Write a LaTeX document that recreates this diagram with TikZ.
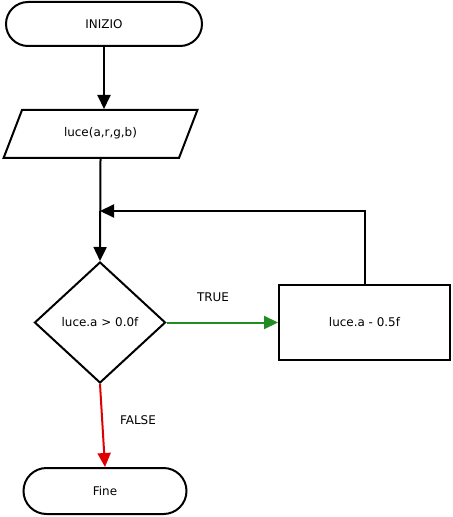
\documentclass[tikz,border=0pt]{standalone}
\usepackage{fontspec}
\setmainfont{DejaVu Sans}
\usetikzlibrary{shapes,arrows.meta,positioning}

\begin{document}
\begin{tikzpicture}[
  x=1bp, y=-1bp,
  font=\fontsize{12}{14}\selectfont,
  terminal/.style={rounded rectangle, draw, line width=2bp, inner sep=0pt},
  io/.style={trapezium, trapezium left angle=69, trapezium right angle=111, draw, line width=2bp, text height=9bp, text depth=3bp, inner ysep=18bp, inner xsep=42bp},
  decision/.style={diamond, draw, line width=2bp, minimum width=131bp, minimum height=121bp, inner sep=0pt},
  process/.style={rectangle, draw, line width=2bp, minimum width=171bp, minimum height=75bp, inner sep=0pt},
  flow/.style={line width=2bp, -{Triangle[length=14bp,width=13bp]}},
  yes/.style={flow, draw={rgb,255:red,34;green,139;blue,34}},
  no/.style={flow, draw={rgb,255:red,225;green,0;blue,0}}
]
  \useasboundingbox (0,0) rectangle (453,517);

  % Blocks
  \node[terminal, minimum width=196bp, minimum height=44bp] (start) at (104, 24) {INIZIO};
  \node[io] (input) at (100.5, 134) {luce(a,r,g,b)};
  \node[decision] (check) at (100, 322.5) {luce.a > 0.0f};
  \node[process] (dec) at (364.5, 322.5) {luce.a - 0.5f};
  \node[terminal, minimum width=163bp, minimum height=46bp] (stop) at (105, 491) {Fine};
  \coordinate (merge) at (100, 211);

  % Connectors
  \draw[flow] (start.south) -- (start.south |- input.north);
  \draw[flow] (input.south) -- (check.north);
  \draw[yes] (check.east) -- (dec.west);
  \draw[flow] (dec.north) |- (merge);
  \draw[no] (check.south) -- (stop.north);

  % Labels
  \node (ltrue) at (213, 297) {TRUE};
  \node (lfalse) at (138, 420) {FALSE};
\end{tikzpicture}
\end{document}
